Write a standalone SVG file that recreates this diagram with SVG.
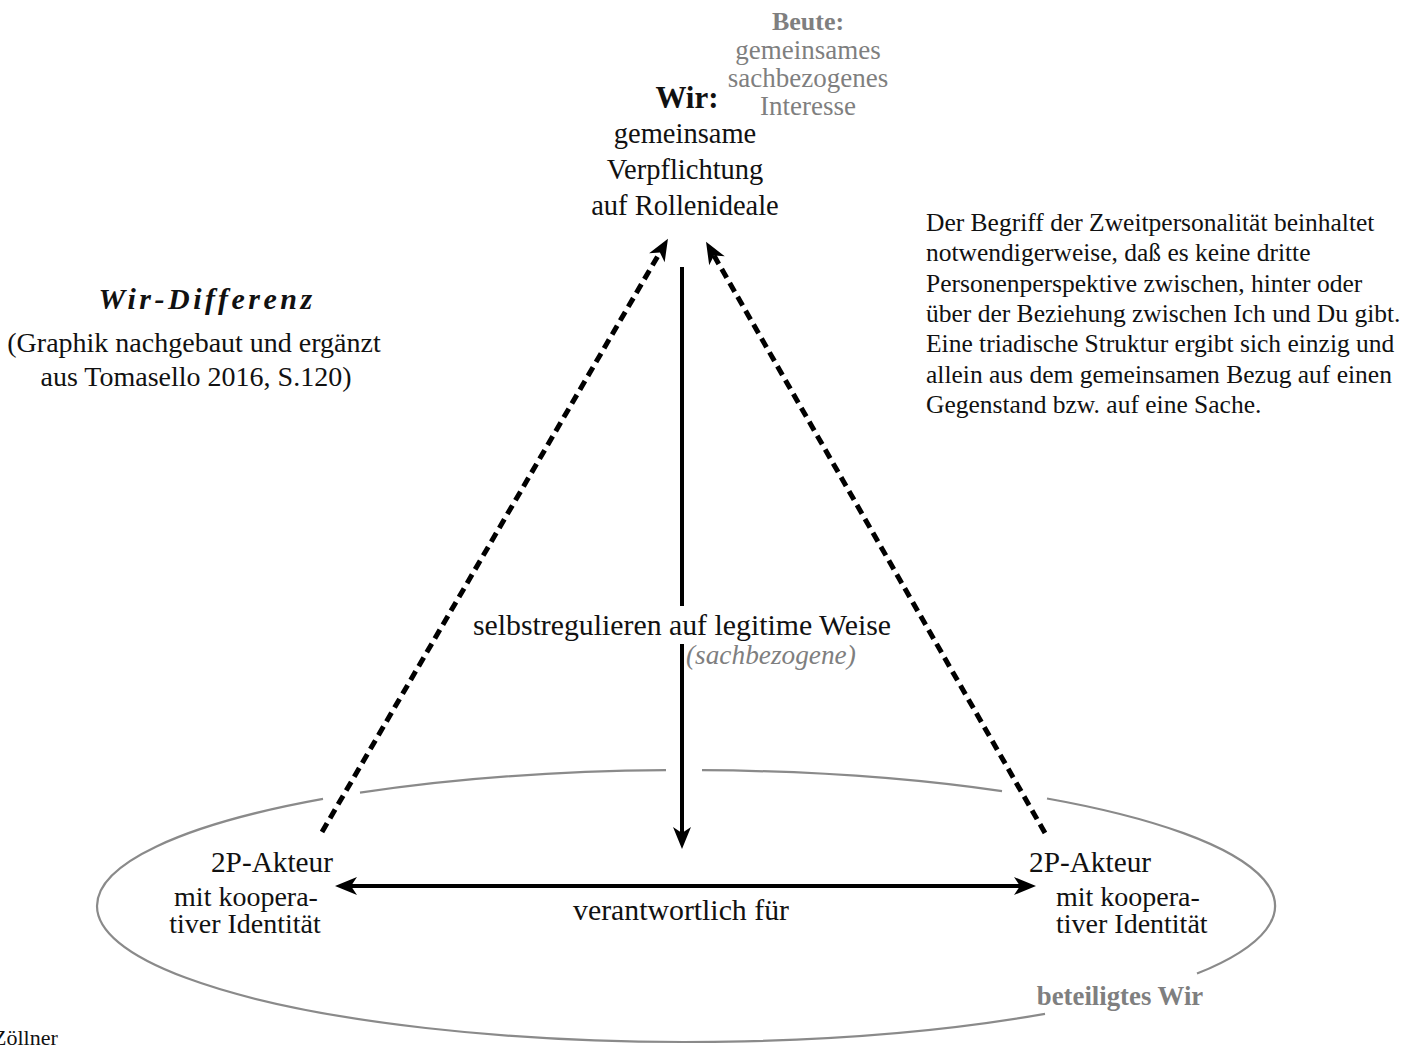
<svg xmlns="http://www.w3.org/2000/svg" width="1420" height="1048" viewBox="0 0 1420 1048">
<style>
text { font-family: "Liberation Serif", "Times New Roman", serif; fill: #111; }
.grey { fill: #7f7f7f; }
.ell { fill: none; stroke: #8a8a8a; stroke-width: 2.2; }
.solid { fill: none; stroke: #000; stroke-width: 4; }
.dash { fill: none; stroke: #000; stroke-width: 5; stroke-dasharray: 10 6; }
</style>
<defs>
<marker id="ah" viewBox="-1 -10 26 20" refX="6" refY="0" markerWidth="26" markerHeight="20" markerUnits="userSpaceOnUse" orient="auto-start-reverse">
<path d="M0,-9 L22,0 L0,9 L6,0 Z" fill="#000" stroke="none"/>
</marker>
</defs>
<rect width="1420" height="1048" fill="#fff"/>

<g id="ellipse-wir">
<path class="ell" d="M360,792.7 A589,136 0 0 1 666,770.2"/>
<path class="ell" d="M702,770.2 A589,136 0 0 1 1002,791.2"/>
<path class="ell" d="M1047,798.5 A589,136 0 0 1 1197,973.6"/>
<path class="ell" d="M1045,1013.8 A589,136 0 0 1 97,906 A589,136 0 0 1 323,798.9"/>
</g>

<g id="connectors">
<path class="dash" d="M322,832 L659.9,252.5" marker-end="url(#ah)"/>
<path class="dash" d="M1045,833 L714,255.6" marker-end="url(#ah)"/>
<path class="solid" d="M682,267 L682,833" marker-end="url(#ah)"/>
<path class="solid" d="M351,886 L1020,886" marker-start="url(#ah)" marker-end="url(#ah)"/>
</g>

<g id="node-beute">
<text class="grey" x="808" y="30" font-size="26" font-weight="bold" text-anchor="middle">Beute:</text>
<text class="grey" x="808" y="59" font-size="27" text-anchor="middle">gemeinsames</text>
<text class="grey" x="808" y="87" font-size="27" text-anchor="middle">sachbezogenes</text>
<text class="grey" x="808" y="115" font-size="27" text-anchor="middle">Interesse</text>
</g>

<g id="node-wir">
<text x="687" y="108" font-size="31" font-weight="bold" text-anchor="middle">Wir:</text>
<text x="685" y="143" font-size="28.5" text-anchor="middle">gemeinsame</text>
<text x="685" y="179" font-size="28.5" text-anchor="middle">Verpflichtung</text>
<text x="685" y="215" font-size="28.5" text-anchor="middle">auf Rollenideale</text>
</g>

<g id="title">
<text x="207" y="309" font-size="30" font-weight="bold" font-style="italic" letter-spacing="3.5" text-anchor="middle">Wir-Differenz</text>
<text x="194" y="352" font-size="28" text-anchor="middle">(Graphik nachgebaut und ergänzt</text>
<text x="196" y="386" font-size="28" text-anchor="middle">aus Tomasello 2016, S.120)</text>
</g>

<g id="note">
<text x="926" y="231" font-size="25.5">Der Begriff der Zweitpersonalität beinhaltet</text>
<text x="926" y="261" font-size="25.5">notwendigerweise, daß es keine dritte</text>
<text x="926" y="292" font-size="25.5">Personenperspektive zwischen, hinter oder</text>
<text x="926" y="322" font-size="25.5">über der Beziehung zwischen Ich und Du gibt.</text>
<text x="926" y="352" font-size="25.5">Eine triadische Struktur ergibt sich einzig und</text>
<text x="926" y="383" font-size="25.5">allein aus dem gemeinsamen Bezug auf einen</text>
<text x="926" y="413" font-size="25.5">Gegenstand bzw. auf eine Sache.</text>
</g>

<g id="label-selbst">
<rect x="468" y="606" width="428" height="38" fill="#fff"/>
<text x="682" y="635" font-size="29.8" text-anchor="middle">selbstregulieren auf legitime Weise</text>
<text class="grey" x="686" y="664" font-size="27.3" font-style="italic">(sachbezogene)</text>
</g>

<g id="node-akteur-left">
<text x="333" y="872" font-size="29.3" text-anchor="end">2P-Akteur</text>
<text x="246" y="906" font-size="28" text-anchor="middle">mit koopera-</text>
<text x="245" y="933" font-size="28" text-anchor="middle">tiver Identität</text>
</g>

<g id="node-akteur-right">
<text x="1029" y="872" font-size="29.3">2P-Akteur</text>
<text x="1056" y="906" font-size="28">mit koopera-</text>
<text x="1056" y="933" font-size="28">tiver Identität</text>
</g>

<g id="label-verantwortlich">
<text x="681" y="920" font-size="29.8" text-anchor="middle">verantwortlich für</text>
</g>

<g id="label-beteiligt">
<text class="grey" x="1120" y="1005" font-size="26.8" font-weight="bold" text-anchor="middle">beteiligtes Wir</text>
</g>

<text x="-7" y="1045" font-size="22">Zöllner</text>
</svg>
